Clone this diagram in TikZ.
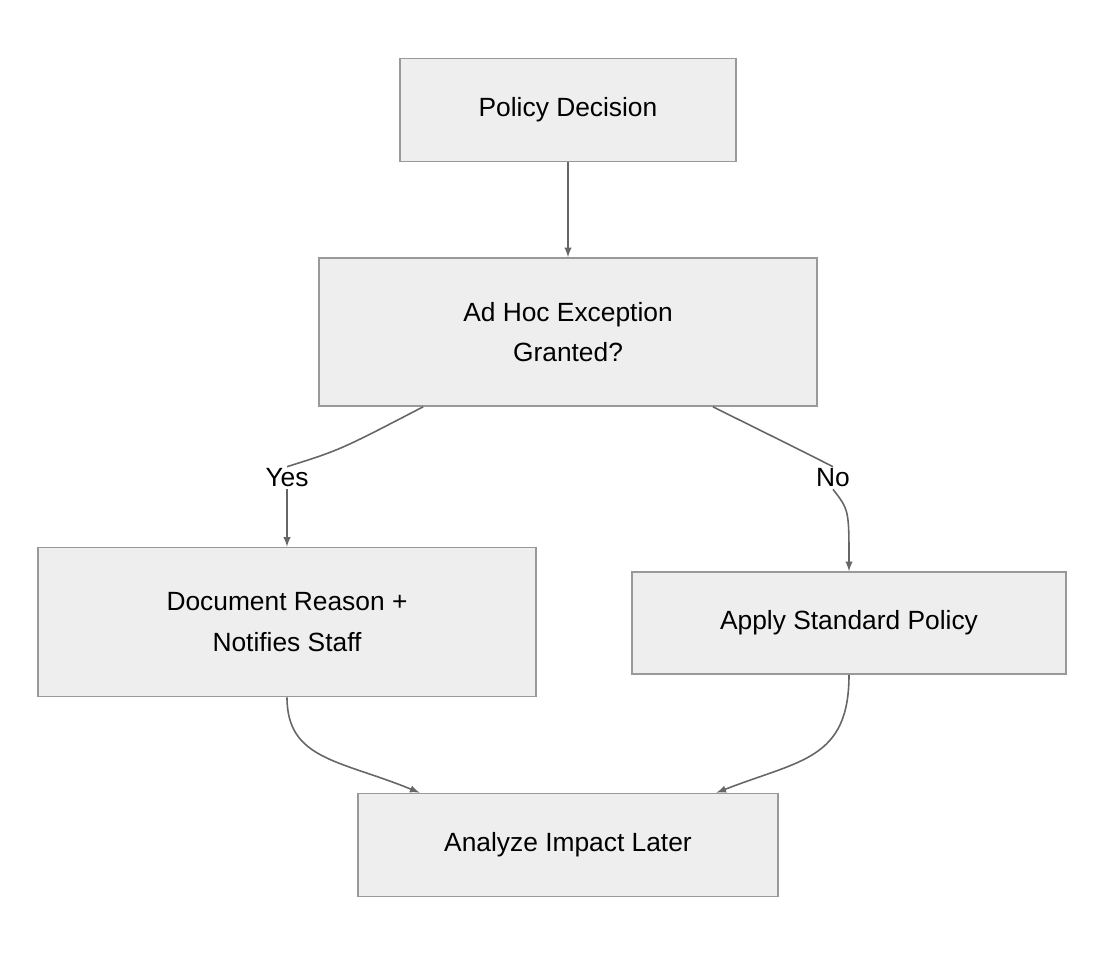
\documentclass[tikz,border=0pt]{standalone}
\usepackage{fontspec}
\setmainfont{Liberation Sans}
\usetikzlibrary{calc}
\definecolor{boxfill}{HTML}{EEEEEE}
\definecolor{boxline}{HTML}{999999}
\definecolor{edgecol}{HTML}{666666}
\tikzset{
    box/.style={draw=boxline,fill=boxfill,line width=0.9pt,align=center,font=\fontsize{15}{23}\selectfont,inner sep=0pt},
    edge/.style={draw=edgecol,line width=0.9pt,-latex},
    lbl/.style={font=\fontsize{15}{18}\selectfont,fill=white,inner sep=1pt}
}
\begin{document}
\begin{tikzpicture}[x=0.02cm,y=-0.02cm]
        \useasboundingbox (0,0) rectangle (1104,956);
        \node[box,minimum width=6.72cm,minimum height=2.06cm] (policy) at (568,110) {Policy Decision};
        \node[box,minimum width=9.96cm,minimum height=2.96cm] (adhoc) at (568,332) {Ad Hoc Exception\\ Granted?};
        \node[box,minimum width=9.96cm,minimum height=2.98cm] (doc) at (287,622) {Document Reason +\\ Notifies Staff};
        \node[box,minimum width=8.68cm,minimum height=2.04cm] (apply) at (849,623) {Apply Standard Policy};
        \node[box,minimum width=8.4cm,minimum height=2.06cm] (impact) at (568,845) {Analyze Impact Later};

        \node[lbl] (yes) at (287,478) {Yes};
        \node[lbl] (no) at (833,478) {No};

        \draw[edge] (policy.south)--(adhoc.north);
        \coordinate (l) at ($(adhoc.south west)!0.21!(adhoc.south east)$);
        \coordinate (r) at ($(adhoc.south west)!0.79!(adhoc.south east)$);
        \draw[draw=edgecol,line width=0.9pt] (l) .. controls (340,450) .. (yes.north);
        \draw[edge] (yes.south) .. controls (287,510) .. (doc.north);
        \draw[draw=edgecol,line width=0.9pt] (r) .. controls (800,450) .. (no.north);
        \draw[edge] (no.south) .. controls (849,510) .. (apply.north);
        \coordinate (il) at ($(impact.north west)!0.148!(impact.north east)$);
        \coordinate (ir) at ($(impact.north west)!0.852!(impact.north east)$);
        \draw[edge] (doc.south) .. controls (287,760) and (340,760) .. (il);
        \draw[edge] (apply.south) .. controls (849,760) and (800,760) .. (ir);
    \end{tikzpicture}
\end{document}
